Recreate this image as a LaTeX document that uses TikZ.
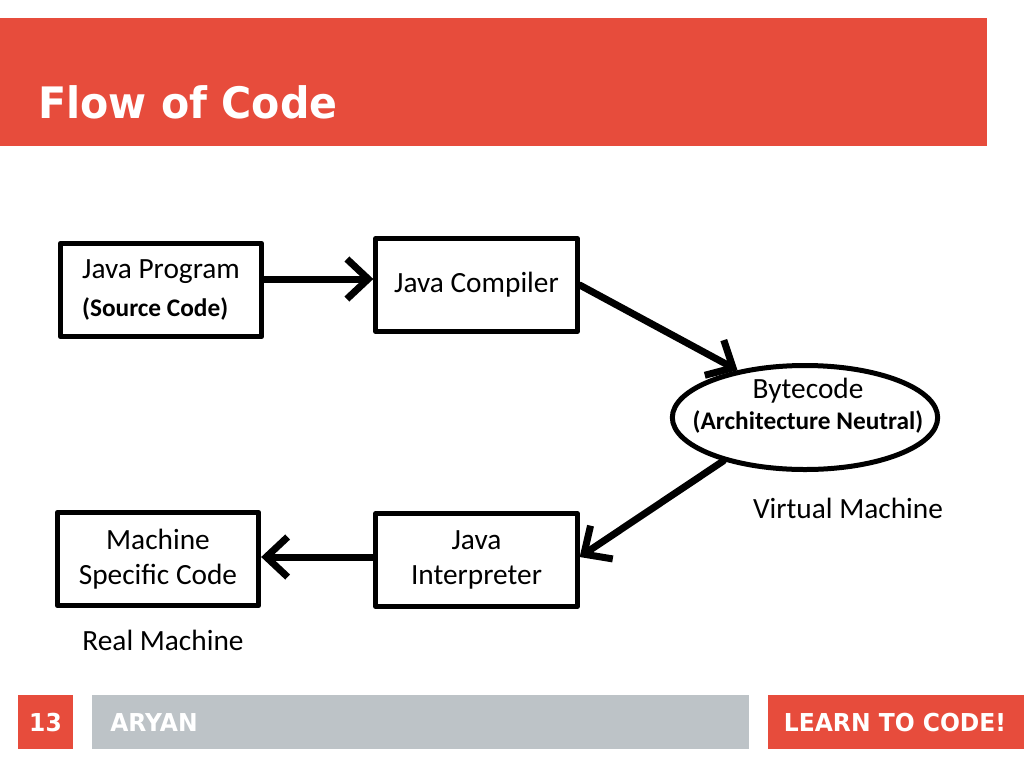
\documentclass[tikz,border=0pt]{standalone}
\usepackage{fontspec}
\usetikzlibrary{arrows.meta,shapes.geometric}
\setmainfont{Carlito}
\newfontfamily\slidefont{DejaVu Sans}[FakeStretch=0.95]
\definecolor{slidered}{RGB}{231,76,60}
\definecolor{slidegray}{RGB}{189,195,199}

\begin{document}
\begin{tikzpicture}[x=0.75pt, y=-0.75pt, line join=round, >={Straight Barb[length=16pt,width=30pt]}]
	\useasboundingbox (0,0) rectangle (1024,768);
	\tikzset{
		box/.style={draw, line width=3.75pt, minimum width=151pt, minimum height=70pt, inner sep=0pt, align=center, font=\fontsize{22}{26}\selectfont},
		flow/.style={->, line width=5.25pt, line cap=round},
		note/.style={font=\fontsize{22}{26}\selectfont},
		band/.style={font=\slidefont\bfseries\fontsize{18.5}{20}\selectfont, text=white, inner sep=0pt}
	}
	\def\small{\bfseries\fontsize{19}{22}\selectfont}
	\fill[slidered] (0,18) rectangle (987,146);
	\node[anchor=base west, inner sep=0pt, text=white, font=\slidefont\bfseries\fontsize{32.5}{36}\selectfont] (title) at (38,118) {Flow of Code};
	\node[box, align=left] (prog) at (161,290) {Java Program\\[2pt]{\small (Source Code)}};
	\node[box] (comp) at (476.5,285) {Java Compiler};
	\node[ellipse, draw, line width=3.75pt, minimum width=199pt, minimum height=78pt, inner sep=0pt] (bc) at (805,417.5) {};
	\node[align=center, inner sep=0pt, font=\fontsize{22}{26}\selectfont] (bctext) at (808,406) {Bytecode\\[-3pt]{\small (Architecture Neutral)}};
	\node[note] (vm) at (848,508) {Virtual Machine};
	\node[box] (interp) at (476.5,560) {Java\\Interpreter};
	\node[box] (spec) at (158,559) {Machine\\Specific Code};
	\node[note] (rm) at (163,640) {Real Machine};
	\draw[flow] (prog.east |- 0,279) -- (comp.west |- 0,279);
	\draw[flow] (comp.east) -- (bc.145);
	\draw[flow] (bc.208) -- (interp.east |- 0,557);
	\draw[flow] (interp.west |- 0,557) -- (spec.east |- 0,557);
	\fill[slidered] (18,695) rectangle (73,749);
	\node[band, anchor=base] (num) at (45.5,731) {13};
	\fill[slidegray] (92,695) rectangle (749,749);
	\node[band, anchor=base west] (name) at (110,731) {ARYAN};
	\fill[slidered] (768,695) rectangle (1024,749);
	\node[band, anchor=base] (motto) at (895,731) {LEARN TO CODE!};
\end{tikzpicture}
\end{document}
